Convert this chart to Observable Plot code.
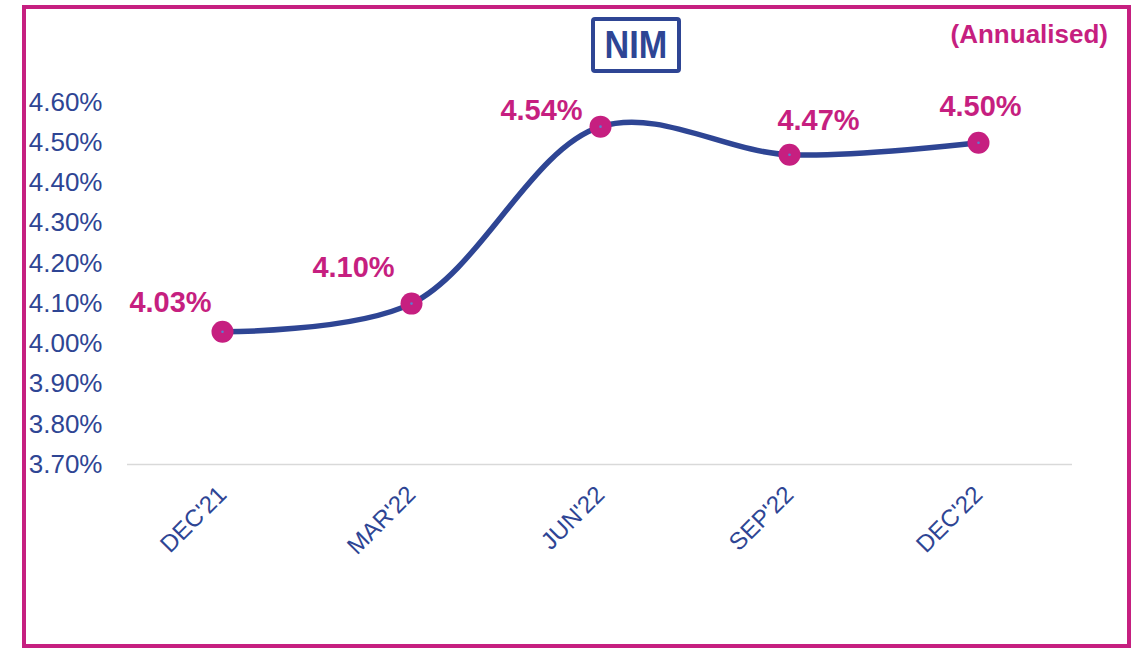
<!DOCTYPE html>
<html><head><meta charset="utf-8">
<script src="https://cdn.jsdelivr.net/npm/d3@7"></script>
<script src="https://cdn.jsdelivr.net/npm/@observablehq/plot@0.6"></script>
<style>
body{margin:0;background:#fff;}
#wrap{position:relative;width:1132px;height:648px;overflow:hidden;font-family:"Liberation Sans",Arial,sans-serif;}
#wrap svg{position:absolute;left:0;top:0;}
#frame{position:absolute;left:22px;top:5px;width:1109px;height:643px;border:4px solid #C61F80;box-sizing:border-box;pointer-events:none;}
#title{position:absolute;left:591px;top:17px;width:90px;height:56px;border:4.5px solid #2E4594;border-radius:4px;box-sizing:border-box;color:#2E4594;font-weight:bold;font-size:38px;display:flex;align-items:center;justify-content:center;}
#title span{display:inline-block;transform:scaleX(0.9);line-height:1;}
#sub{position:absolute;right:24px;top:19px;color:#C61F80;font-weight:bold;font-size:26px;}
</style></head>
<body>
<div id="wrap">
  <div id="title"><span>NIM</span></div>
  <div id="sub">(Annualised)</div>
  <div id="frame"></div>
</div>
<script>
const quarters = ["DEC'21", "MAR'22", "JUN'22", "SEP'22", "DEC'22"];
const nimValues = [4.03, 4.10, 4.54, 4.47, 4.50];
const yTicks = [3.7, 3.8, 3.9, 4.0, 4.1, 4.2, 4.3, 4.4, 4.5, 4.6];

const BLUE = "#2E4594";
const MAGENTA = "#C61F80";
const data = quarters.map((q, i) => ({q, v: nimValues[i], i}));
const fmt = d => d.toFixed(2) + "%";

const nudges = [[-52, -29], [-58, -36], [-59, -16], [29, -34], [2, -36]];
const labelMarks = nudges.map(([dx, dy], k) =>
  Plot.text(data.filter(d => d.i === k), {
    x: "q", y: "v", text: d => fmt(d.v), dx, dy,
    fill: MAGENTA, fontSize: 29, fontWeight: "bold",
    textAnchor: "middle", lineAnchor: "middle", letterSpacing: "1.6px"
  })
);

const chart = Plot.plot({
  width: 1132,
  height: 648,
  marginLeft: 127,
  marginRight: 60,
  marginTop: 102,
  marginBottom: 184,
  style: {fontFamily: "'Liberation Sans', Arial, sans-serif", background: "transparent"},
  x: {type: "point", domain: quarters, padding: 0.5},
  y: {domain: [3.7, 4.6]},
  marks: [
    Plot.ruleY([3.7], {stroke: "#d9d9d9", strokeWidth: 1.5}),
    Plot.axisY({ticks: yTicks, tickFormat: fmt, tickSize: 0, tickPadding: 25, fontSize: 26, color: BLUE, label: null}),
    Plot.axisX({tickRotate: -45, tickSize: 0, tickPadding: 26, fontSize: 24, color: BLUE, label: null}),
    Plot.line(data, {x: "q", y: "v", curve: "catmull-rom", stroke: BLUE, strokeWidth: 5.5}),
    Plot.dot(data, {x: "q", y: "v", r: 11, fill: MAGENTA, stroke: "none"}),
    Plot.dot(data, {x: "q", y: "v", r: 1.3, fill: "#5a7fd0", stroke: "none"}),
    ...labelMarks
  ]
});
document.getElementById("wrap").prepend(chart);
</script>
</body></html>
